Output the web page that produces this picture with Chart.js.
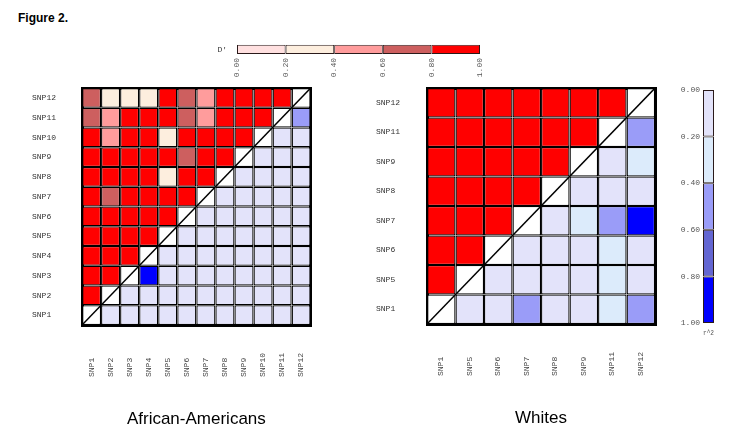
<!DOCTYPE html>
<html>
<head>
<meta charset="utf-8">
<script src="https://cdn.jsdelivr.net/npm/chart.js@4.4.1/dist/chart.umd.min.js"></script>
<style>
  body { margin: 0; background: #fff; width: 750px; height: 446px; position: relative; overflow: hidden; font-family: "Liberation Sans", Arial, sans-serif; }
  canvas { position: absolute; }
  #fig { position: absolute; left: 18px; top: 11px; font-weight: bold; font-size: 12px; }
</style>
</head>
<body>
<div id="fig">Figure 2.</div>
<canvas id="aa" width="340" height="380" style="left:0;top:60px"></canvas>
<canvas id="wh" width="340" height="380" style="left:340px;top:60px"></canvas>
<canvas id="dbar" width="300" height="55" style="left:200px;top:30px"></canvas>
<canvas id="rbar" width="90" height="265" style="left:660px;top:80px"></canvas>
<script>
const aaSnps = ['SNP1', 'SNP2', 'SNP3', 'SNP4', 'SNP5', 'SNP6', 'SNP7', 'SNP8', 'SNP9', 'SNP10', 'SNP11', 'SNP12'];
const whSnps = ['SNP1', 'SNP5', 'SNP6', 'SNP7', 'SNP8', 'SNP9', 'SNP11', 'SNP12'];

// rows listed bottom (first SNP) to top; left of the diagonal is D', right of it is r^2
const aaLD = [
  [null, .05, .05, .05, .05, .05, .05, .05, .05, .05, .05, .05],
  [.9, null, .05, .05, .05, .05, .05, .05, .05, .05, .05, .05],
  [.9, .9, null, .9, .05, .05, .05, .05, .05, .05, .05, .05],
  [.9, .9, .9, null, .05, .05, .05, .05, .05, .05, .05, .05],
  [.9, .9, .9, .9, null, .05, .05, .05, .05, .05, .05, .05],
  [.9, .9, .9, .9, .9, null, .05, .05, .05, .05, .05, .05],
  [.9, .7, .9, .9, .9, .9, null, .05, .05, .05, .05, .05],
  [.9, .9, .9, .9, .3, .9, .9, null, .05, .05, .05, .05],
  [.9, .9, .9, .9, .9, .7, .9, .9, null, .05, .05, .05],
  [.9, .5, .9, .9, .3, .9, .9, .9, .9, null, .05, .05],
  [.7, .5, .9, .9, .9, .7, .5, .9, .9, .9, null, .5],
  [.7, .3, .3, .3, .9, .7, .5, .9, .9, .9, .9, null]
];
const whLD = [
  [null, .05, .05, .5, .05, .05, .3, .5],
  [.9, null, .05, .05, .05, .05, .3, .05],
  [.9, .9, null, .05, .05, .05, .3, .05],
  [.9, .9, .9, null, .05, .3, .5, .9],
  [.9, .9, .9, .9, null, .05, .05, .05],
  [.9, .9, .9, .9, .9, null, .05, .3],
  [.9, .9, .9, .9, .9, .9, null, .5],
  [.9, .9, .9, .9, .9, .9, .9, null]
];

const breaks = [0, 0.2, 0.4, 0.6, 0.8, 1];
const dprimeColors = ['#ffe0e0', '#fdeede', '#ff9c9c', '#cd5f5f', '#ff0000'];
const r2Colors = ['#e3e3fa', '#dcebfb', '#9a9cf8', '#6466d2', '#0000ff'];

const mono = '"Liberation Mono", "DejaVu Sans Mono", monospace';
const sans = '"Liberation Sans", Arial, sans-serif';

function pick(v, colors) {
  return colors[Math.min(colors.length - 1, Math.floor(v / 0.2))];
}

function noAxis(pos, extra) {
  return Object.assign({
    position: pos,
    offset: false,
    ticks: { display: false },
    grid: { display: false, drawTicks: false, lineWidth: 3 },
    border: { display: true, width: 3, color: '#000' }
  }, extra);
}

function heatmap(id, snps, ld, title, pad, yWidth) {
  const n = snps.length;
  const datasets = ld.map((row, i) => ({
    data: row.map(() => 1),
    backgroundColor: row.map((v, j) => j === i ? '#fff' : pick(v, j < i ? dprimeColors : r2Colors)),
    borderColor: '#000',
    borderWidth: 1.3,
    borderSkipped: false,
    inflateAmount: 0,
    grouped: false,
    barPercentage: 1,
    categoryPercentage: 1
  }));
  // diagonal through the self-pair cells
  datasets.push({
    type: 'line',
    data: [{ x: 0, y: 0 }, { x: n, y: n }],
    xAxisID: 'xd',
    yAxisID: 'yd',
    borderColor: '#000',
    borderWidth: 1.5,
    pointRadius: 0,
    order: -1
  });

  return new Chart(document.getElementById(id), {
    type: 'bar',
    data: { labels: snps, datasets: datasets },
    options: {
      responsive: false,
      animation: false,
      devicePixelRatio: 1,
      layout: { padding: pad },
      plugins: { legend: { display: false }, tooltip: { enabled: false } },
      scales: {
        x: {
          stacked: true,
          grid: { display: false, drawTicks: false, lineWidth: 3 },
          border: { display: true, width: 3, color: '#000' },
          ticks: {
            autoSkip: false, minRotation: 90, maxRotation: 90, padding: 28,
            font: { family: mono, size: 8 }, color: '#444',
            callback: (v, i) => snps[i].padEnd(5, ' ')
          },
          title: { display: true, text: title, color: '#000', font: { family: sans, size: 17 }, padding: { top: 0, bottom: 0 } },
          afterFit: s => { s.height = 105; }
        },
        y: {
          stacked: true, min: 0, max: n,
          grid: { display: false, drawTicks: false, lineWidth: 3 },
          border: { display: true, width: 3, color: '#000' },
          afterBuildTicks: s => { s.ticks = snps.map((_, i) => ({ value: i + 0.5 })); },
          ticks: { crossAlign: 'far', font: { family: mono, size: 8 }, color: '#333', callback: (v, i) => snps[i] },
          afterFit: s => { s.width = yWidth; }
        },
        xt: noAxis('top', { type: 'linear', afterFit: s => { s.height = 0; } }),
        yr: noAxis('right', { type: 'linear', afterFit: s => { s.width = 0; } }),
        xd: { type: 'linear', axis: 'x', position: 'bottom', display: false, offset: false, min: 0, max: n },
        yd: { type: 'linear', axis: 'y', position: 'left', display: false, offset: false, min: 0, max: n }
      }
    }
  });
}

heatmap('aa', aaSnps, aaLD, 'African-Americans', { left: 32, right: 20, top: 28, bottom: 10 }, 50);
heatmap('wh', whSnps, whLD, 'Whites', { left: 36, right: 16, top: 28, bottom: 11 }, 51);

function legendSets(colors) {
  return colors.map((c, k) => ({
    data: [breaks[k + 1] - breaks[k]],
    backgroundColor: c,
    borderColor: '#2a1a1a',
    borderWidth: 1,
    borderSkipped: false,
    inflateAmount: 0,
    barPercentage: 1,
    categoryPercentage: 1
  }));
}

// D' key across the top
new Chart(document.getElementById('dbar'), {
  type: 'bar',
  data: { labels: ["D'"], datasets: legendSets(dprimeColors) },
  options: {
    indexAxis: 'y',
    responsive: false,
    animation: false,
    devicePixelRatio: 1,
    layout: { padding: { left: 0, right: 20, top: 12, bottom: 6 } },
    plugins: { legend: { display: false }, tooltip: { enabled: false } },
    scales: {
      x: {
        stacked: true, min: 0, max: 1,
        grid: { display: false, drawTicks: false },
        border: { display: false },
        afterBuildTicks: s => { s.ticks = breaks.map(v => ({ value: v })); },
        ticks: { minRotation: 90, maxRotation: 90, padding: 4, font: { family: mono, size: 8 }, color: '#555', callback: v => Number(v).toFixed(2) },
        afterFit: s => { s.height = 25; }
      },
      y: {
        stacked: true,
        grid: { display: false, drawTicks: false },
        border: { display: false },
        ticks: { padding: 10, font: { family: mono, size: 8 }, color: '#333' },
        afterFit: s => { s.width = 37; }
      }
    }
  }
});

// r^2 key on the right
new Chart(document.getElementById('rbar'), {
  type: 'bar',
  data: { labels: [''], datasets: legendSets(r2Colors) },
  options: {
    responsive: false,
    animation: false,
    devicePixelRatio: 1,
    layout: { padding: { left: 0, right: 36, top: 10, bottom: 2 } },
    plugins: { legend: { display: false }, tooltip: { enabled: false } },
    scales: {
      x: {
        stacked: true,
        grid: { display: false, drawTicks: false },
        border: { display: false },
        ticks: { display: false },
        title: { display: true, text: 'r^2', color: '#555', font: { family: mono, size: 8 }, padding: { top: 0, bottom: 5 } },
        afterFit: s => { s.height = 20; }
      },
      y: {
        stacked: true, reverse: true, min: 0, max: 1,
        grid: { display: false, drawTicks: false },
        border: { display: false },
        afterBuildTicks: s => { s.ticks = breaks.map(v => ({ value: v })); },
        ticks: { padding: 3, font: { family: mono, size: 8 }, color: '#555', callback: v => Number(v).toFixed(2) },
        afterFit: s => { s.width = 43; }
      }
    }
  }
});
</script>
</body>
</html>
